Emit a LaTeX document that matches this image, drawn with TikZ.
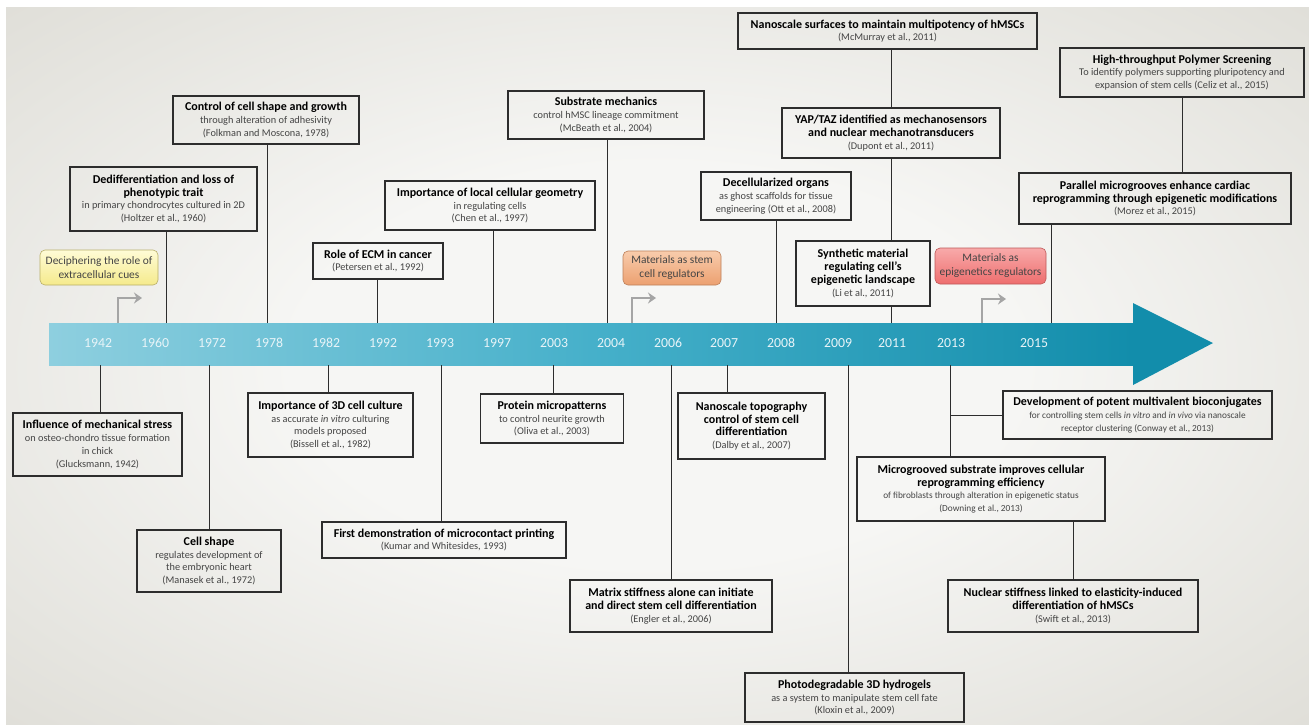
\documentclass[tikz,border=0pt]{standalone}
\usepackage{fontspec}
\setmainfont{Carlito}
\usepackage{tikz}
\usetikzlibrary{positioning, shapes, calc, arrows.meta}
\definecolor{bgin}{RGB}{246,246,244}
\definecolor{bgout}{RGB}{209,207,198}
\definecolor{axisL}{RGB}{142,207,223}
\definecolor{axisM}{RGB}{70,176,202}
\definecolor{axisR}{RGB}{18,141,171}
\definecolor{boxline}{RGB}{45,45,45}
\definecolor{subtext}{RGB}{68,68,68}
\definecolor{yeartext}{RGB}{232,244,248}
\definecolor{turngray}{RGB}{165,165,165}
\definecolor{cueTop}{RGB}{255,252,214}
\definecolor{cueBot}{RGB}{245,234,140}
\definecolor{stemTop}{RGB}{248,204,172}
\definecolor{stemBot}{RGB}{236,160,112}
\definecolor{epiTop}{RGB}{248,170,170}
\definecolor{epiBot}{RGB}{238,110,110}

\pgfdeclareradialshading{vignette}{\pgfpoint{0bp}{0bp}}{color(0bp)=(bgin); color(14bp)=(bgin); color(50bp)=(bgout); color(72bp)=(bgout)}

\newcommand{\ttl}{\fontsize{12}{15}\selectfont\bfseries\color{black}}
\newcommand{\sbt}{\fontsize{10.3}{12.7}\selectfont\mdseries\color{subtext}}
\newcommand{\sbtc}{\fontsize{9.3}{12.7}\selectfont\mdseries\color{subtext}}

\tikzset{
	evbox/.style={draw=boxline, line width=1.2pt, align=center, inner sep=1pt, font=\sbt},
	wh/.style 2 args={minimum width=#1pt, minimum height=#2pt},
	catbox/.style={rounded corners=5pt, align=center, line width=0.6pt, text=subtext, font=\fontsize{11.4}{14}\selectfont, inner sep=1pt},
	link/.style={draw=boxline, line width=1pt},
	turn/.style={draw=turngray, line width=2.6pt, -{Stealth[length=8pt,width=11pt]}},
	yr/.style={text=yeartext, font=\fontsize{13.8}{16}\selectfont}
}

\begin{document}
\begin{tikzpicture}[x=1pt, y=-1pt]
		\useasboundingbox (0,0) rectangle (1309,724);
		\fill[white] (0,0) rectangle (1309,724);
		\shade[shading=vignette] (6,7) rectangle (1309,724);
		
		%% time axis
		\shade[left color=axisL, right color=axisR, middle color=axisM] (49,323) rectangle (1134,365);
		\fill[axisR] (1133,303) -- (1213,343) -- (1133,385) -- cycle;
		\foreach \yr/\xx in {1942/98, 1960/155, 1972/212, 1978/269, 1982/326, 1992/383, 1993/440, 1997/497, 2003/554, 2004/611, 2006/668, 2007/724, 2008/781, 2009/838, 2011/892, 2013/951, 2015/1034}
			\node[yr] (y\yr) at (\xx,343) {\yr};
		
		%% ends of the connectors on the axis
		\coordinate (a1960) at (166,323);
		\coordinate (a1978) at (267,323);
		\coordinate (a1992) at (377,323);
		\coordinate (a1997) at (493,323);
		\coordinate (a2004) at (607,323);
		\coordinate (a2008) at (776,323);
		\coordinate (a2011) at (891,323);
		\coordinate (a2015) at (1051,323);
		\coordinate (b1942) at (100,365);
		\coordinate (b1972) at (209,365);
		\coordinate (b1982) at (328,365);
		\coordinate (b1993) at (441,365);
		\coordinate (b2003) at (553,365);
		\coordinate (b2006) at (671,365);
		\coordinate (b2007) at (727,365);
		\coordinate (b2009) at (848,365);
		\coordinate (b2013) at (950,365);
		
		%% phases
		\node[catbox, draw=cueBot!75!black, top color=cueTop, bottom color=cueBot, wh={118}{35}] (cueBox) at (99,267.5) {Deciphering the role of\\extracellular cues};
		\node[catbox, draw=stemBot!80!black, top color=stemTop, bottom color=stemBot, wh={98}{34}] (stemBox) at (672,268) {Materials as stem\\cell regulators};
		\node[catbox, draw=epiBot!80!black, top color=epiTop, bottom color=epiBot, wh={111}{36}] (epiBox) at (990.5,266) {Materials as\\epigenetics regulators};
		\coordinate (s1) at (118,323);
		\coordinate (s2) at (632,323);
		\coordinate (s3) at (982,323);
		\draw[turn] (s1) |- ++(24,-25);
		\draw[turn] (s2) |- ++(24,-25);
		\draw[turn] (s3) |- ++(24,-24);
		
		%% above the axis
		\node[evbox, wh={187}{64}] (dediff) at (163.5,199) {\ttl Dedifferentiation and loss of\\\ttl phenotypic trait\\in primary chondrocytes cultured in 2D\\(Holtzer et al., 1960)};
		\node[evbox, wh={186}{48}] (ctrl) at (266,120) {\ttl Control of cell shape and growth\\through alteration of adhesivity\\(Folkman and Moscona, 1978)};
		\node[evbox, wh={130}{36}] (ecm) at (378,261) {\ttl Role of ECM in cancer\\(Petersen et al., 1992)};
		\node[evbox, wh={210}{49}] (geom) at (490,205.5) {\ttl Importance of local cellular geometry\\in regulating cells\\(Chen et al., 1997)};
		\node[evbox, wh={196}{48}] (substr) at (606,115) {\ttl Substrate mechanics\\control hMSC lineage commitment\\(McBeath et al., 2004)};
		\node[evbox, wh={150}{48}] (decell) at (776,196) {\ttl Decellularized organs\\as ghost scaffolds for tissue\\engineering (Ott et al., 2008)};
		\node[evbox, wh={299}{36}] (nanosurf) at (887.5,31) {\ttl Nanoscale surfaces to maintain multipotency of hMSCs\\(McMurray et al., 2011)};
		\node[evbox, wh={218}{50}] (yap) at (891,133) {\ttl YAP/TAZ identified as mechanosensors\\\ttl and nuclear mechanotransducers\\(Dupont et al., 2011)};
		\node[evbox, wh={134}{65}] (synth) at (863,273.5) {\ttl Synthetic material\\\ttl regulating cell’s\\\ttl epigenetic landscape\\(Li et al., 2011)};
		\node[evbox, wh={244}{49}] (htp) at (1182,72.5) {\ttl High-throughput Polymer Screening\\To identify polymers supporting pluripotency and\\expansion of stem cells (Celiz et al., 2015)};
		\node[evbox, wh={272}{51}] (parallel) at (1155,198.5) {\ttl Parallel microgrooves enhance cardiac\\\ttl reprogramming through epigenetic modifications\\(Morez et al., 2015)};
		
		%% below the axis
		\node[evbox, wh={169}{63}] (infl) at (97.5,444.5) {\ttl Influence of mechanical stress\\on osteo-chondro tissue formation\\in chick\\(Glucksmann, 1942)};
		\node[evbox, wh={144}{62}] (cellshape) at (209,561) {\ttl Cell shape\\regulates development of\\the embryonic heart\\(Manasek et al., 1972)};
		\node[evbox, wh={165}{64}] (imp3d) at (330.5,425) {\ttl Importance of 3D cell culture\\as accurate \textit{in vitro} culturing\\models proposed\\(Bissell et al., 1982)};
		\node[evbox, wh={244}{36}] (mcp) at (444,540) {\ttl First demonstration of microcontact printing\\(Kumar and Whitesides, 1993)};
		\node[evbox, wh={143}{49}] (protein) at (552,418.5) {\ttl Protein micropatterns\\to control neurite growth\\(Oliva et al., 2003)};
		\node[evbox, wh={202}{52}] (matrix) at (671,606) {\ttl Matrix stiffness alone can initiate\\\ttl and direct stem cell differentiation\\(Engler et al., 2006)};
		\node[evbox, wh={147}{66}] (nanotopo) at (751.5,426) {\ttl Nanoscale topography\\\ttl control of stem cell\\\ttl differentiation\\(Dalby et al., 2007)};
		\node[evbox, wh={219}{49}] (photo) at (854.5,697.5) {\ttl Photodegradable 3D hydrogels\\as a system to manipulate stem cell fate\\(Kloxin et al., 2009)};
		\node[evbox, font=\sbtc, wh={269}{48}] (bioconj) at (1137.5,415) {\ttl Development of potent multivalent bioconjugates\\for controlling stem cells \textit{in vitro} and \textit{in vivo} via nanoscale\\receptor clustering (Conway et al., 2013)};
		\node[evbox, font=\sbtc, wh={248}{64}] (microgr) at (981,489) {\ttl Microgrooved substrate improves cellular\\\ttl reprogramming efficiency\\of fibroblasts through alteration in epigenetic status\\(Downing et al., 2013)};
		\node[evbox, wh={250}{52}] (nuclear) at (1073,606) {\ttl Nuclear stiffness linked to elasticity-induced\\\ttl differentiation of hMSCs\\(Swift et al., 2013)};
		
		%% connectors
		\draw[link] (a1960) -- (a1960 |- dediff.south);
		\draw[link] (a1978) -- (a1978 |- ctrl.south);
		\draw[link] (a1992) -- (a1992 |- ecm.south);
		\draw[link] (a1997) -- (a1997 |- geom.south);
		\draw[link] (a2004) -- (a2004 |- substr.south);
		\draw[link] (a2008) -- (a2008 |- decell.south);
		\draw[link] (yap.north) -- (yap.north |- nanosurf.south);
		\draw[link] (yap.south) -- (yap.south |- synth.north);
		\draw[link] (a2011) -- (a2011 |- synth.south);
		\draw[link] (htp.south) -- (htp.south |- parallel.north);
		\draw[link] (a2015) -- (a2015 |- parallel.south);
		\draw[link] (b1942) -- (b1942 |- infl.north);
		\draw[link] (b1972) -- (b1972 |- cellshape.north);
		\draw[link] (b1982) -- (b1982 |- imp3d.north);
		\draw[link] (b1993) -- (b1993 |- mcp.north);
		\draw[link] (b2003) -- (b2003 |- protein.north);
		\draw[link] (b2006) -- (b2006 |- matrix.north);
		\draw[link] (b2007) -- (b2007 |- nanotopo.north);
		\draw[link] (b2009) -- (b2009 |- photo.north);
		\draw[link] (b2013) -- (b2013 |- microgr.north);
		\draw[link] (b2013 |- bioconj.west) -- (bioconj.west);
		\draw[link] (nuclear.north) -- (nuclear.north |- microgr.south);
\end{tikzpicture}
\end{document}
